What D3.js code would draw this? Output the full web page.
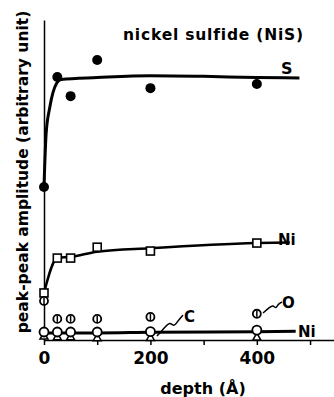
<!DOCTYPE html>
<html>
<head>
<meta charset="utf-8">
<script src="https://cdn.jsdelivr.net/npm/d3@7"></script>
<style>
  body { margin: 0; background: #fff; }
  text { font-family: "DejaVu Sans", sans-serif; fill: #000; font-weight: bold; }
</style>
</head>
<body>
<svg width="334" height="397"></svg>
<script>
// depth values (Angstrom) of the measured points
var depths = [0, 25, 50, 100, 200, 400];

// measured amplitudes (arbitrary unit)
var sPoints  = [4.78, 8.22, 7.62, 8.75, 7.87, 8.0];
var niPoints = [1.47, 2.56, 2.56, 2.9, 2.78, 3.03];
var oPoints  = [1.22, 0.66, 0.66, 0.66, 0.72, 0.82];
var ni2Points = [0.25, 0.25, 0.25, 0.25, 0.26, 0.31];
var cPoints  = [0.1, 0.08, 0.08, 0.05, 0.06, 0.07];

// hand-drawn trend lines
var sFitDepth = [0, 4, 11, 24, 32, 100, 200, 300, 400, 480];
var sFit      = [4.8, 6.45, 7.28, 8.03, 8.14, 8.2, 8.26, 8.24, 8.2, 8.19];
var niFitDepth = [0, 25, 50, 100, 200, 400, 462];
var niFit      = [1.47, 2.56, 2.6, 2.76, 2.87, 3.03, 3.05];
var ni2FitDepth = [0, 100, 200, 400, 473];
var ni2Fit      = [0.22, 0.22, 0.24, 0.26, 0.27];

var xTicks = [0, 100, 200, 300, 400, 500];
var xLabels = [0, 200, 400];

var svg = d3.select("svg");

var x = d3.scaleLinear().domain([0, 545]).range([44, 334]);
var y = d3.scaleLinear().domain([0, 10]).range([340, 20]);

// axes
svg.append("g")
    .attr("transform", "translate(0,340)")
    .call(d3.axisBottom(x).tickValues(xTicks).tickSize(5).tickSizeOuter(0)
      .tickFormat(function(d) { return xLabels.indexOf(d) >= 0 ? d : ""; }))
    .call(function(g) {
      g.select(".domain").attr("stroke-width", 1.5);
      g.selectAll(".tick line").attr("stroke-width", 1.5);
      g.selectAll(".tick text").attr("dy", 0).attr("y", 24)
        .style("font-size", "17px").attr("font-family", null);
    });

svg.append("g")
    .attr("transform", "translate(44,0)")
    .call(d3.axisLeft(y).tickValues([]).tickSizeOuter(0))
    .call(function(g) { g.select(".domain").attr("stroke-width", 1.5); });

// trend lines
var line = d3.line().curve(d3.curveMonotoneX);
function fitLine(ds, vs, w) {
  svg.append("path")
    .attr("d", line(ds.map(function(d, i) { return [x(d), y(vs[i])]; })))
    .attr("fill", "none").attr("stroke", "#000").attr("stroke-width", w);
}
fitLine(sFitDepth, sFit, 3);
fitLine(niFitDepth, niFit, 2.5);
fitLine(ni2FitDepth, ni2Fit, 3);

// S : filled circles
svg.selectAll(".s").data(depths).enter().append("circle")
    .attr("cx", function(d) { return x(d); })
    .attr("cy", function(d, i) { return y(sPoints[i]); })
    .attr("r", 5).attr("fill", "#000");

// Ni : open squares
svg.selectAll(".ni").data(depths).enter().append("rect")
    .attr("x", function(d) { return x(d) - 4; })
    .attr("y", function(d, i) { return y(niPoints[i]) - 4; })
    .attr("width", 8).attr("height", 8)
    .attr("fill", "#fff").attr("stroke", "#000").attr("stroke-width", 1.6);

// C : small triangles
svg.selectAll(".c").data(depths).enter().append("path")
    .attr("transform", function(d, i) { return "translate(" + x(d) + "," + y(cPoints[i]) + ")"; })
    .attr("d", d3.symbol().type(d3.symbolTriangle).size(28))
    .attr("fill", "#fff").attr("stroke", "#000").attr("stroke-width", 1.5);

// Ni (second) : open circles
svg.selectAll(".ni2").data(depths).enter().append("circle")
    .attr("cx", function(d) { return x(d); })
    .attr("cy", function(d, i) { return y(ni2Points[i]); })
    .attr("r", 4.5).attr("fill", "#fff").attr("stroke", "#000").attr("stroke-width", 1.8);

// O : circles with a vertical bar
var og = svg.selectAll(".o").data(depths).enter().append("g")
    .attr("transform", function(d, i) { return "translate(" + x(d) + "," + y(oPoints[i]) + ")"; });
og.append("circle").attr("r", 4).attr("fill", "#fff").attr("stroke", "#000").attr("stroke-width", 1.8);
og.append("line").attr("y1", -3).attr("y2", 3).attr("stroke", "#000").attr("stroke-width", 1.5);

// squiggle leaders
var squig = d3.line().curve(d3.curveBasis);
svg.append("path")
    .attr("d", squig([[157, 336], [166, 326], [170, 322], [174, 327], [177, 322], [183, 315]]))
    .attr("fill", "none").attr("stroke", "#000").attr("stroke-width", 1.5);
svg.append("path")
    .attr("d", squig([[263, 313], [270, 307], [273, 305], [276, 309], [278, 304], [282, 302]]))
    .attr("fill", "none").attr("stroke", "#000").attr("stroke-width", 1.5);

// labels
function label(t, px, py, size) {
  return svg.append("text").attr("x", px).attr("y", py)
    .style("font-size", size + "px").text(t);
}
label("nickel sulfide (NiS)", 123, 40, 15.5).style("letter-spacing", "0.8px");
label("S", 281, 74, 16);
label("Ni", 278, 245, 15);
label("O", 282, 308, 15);
label("C", 184, 322, 15);
label("Ni", 298, 337, 15);

svg.append("text")
    .attr("x", 203).attr("y", 394)
    .attr("text-anchor", "middle")
    .style("font-size", "16px")
    .text("depth (Å)");

svg.append("text")
    .attr("transform", "translate(28,172) rotate(-90)")
    .attr("text-anchor", "middle")
    .style("font-size", "15.5px")
    .text("peak-peak amplitude (arbitrary unit)");
</script>
</body>
</html>
